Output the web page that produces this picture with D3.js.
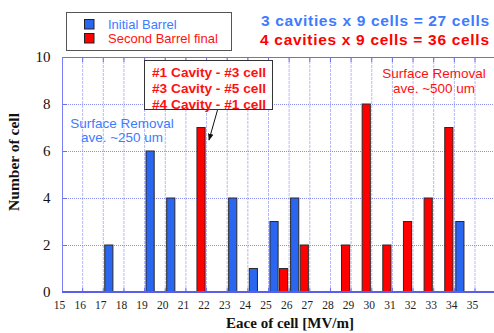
<!DOCTYPE html>
<html>
<head>
<meta charset="utf-8">
<script src="https://cdn.jsdelivr.net/npm/d3@7"></script>
<style>
  html, body { margin: 0; padding: 0; background: #fff; }
  svg { display: block; }
</style>
</head>
<body>
<svg id="chart" width="494" height="333"></svg>
<script>
// Histogram bins of accelerating field (lower edge of each 1 MV/m bin)
const bins = [15, 16, 17, 18, 19, 20, 21, 22, 23, 24, 25, 26, 27, 28, 29, 30, 31, 32, 33, 34, 35];
// Number of cells per bin
const initialBarrel = [0, 0, 2, 0, 6, 4, 0, 0, 4, 1, 3, 4, 0, 0, 0, 0, 0, 0, 0, 3, 0];
const secondBarrel  = [0, 0, 0, 0, 0, 0, 7, 0, 0, 0, 1, 2, 0, 2, 8, 2, 3, 4, 7, 0, 0];
const seriesNames = ["Initial Barrel", "Second Barrel final"];
const seriesColors = ["#2a66f0", "#ff0000"];
const xTickLabels = [15, 16, 17, 18, 19, 20, 21, 22, 23, 24, 25, 26, 27, 28, 29, 30, 31, 32, 33, 34, 35];
const yTickLabels = [0, 2, 4, 6, 8, 10];
const annotationLines = ["#1 Cavity - #3 cell", "#3 Cavity - #5 cell", "#4 Cavity - #1 cell"];

const svg = d3.select("#chart");
const plot = { left: 62, top: 57, bottom: 292, step: 20.65 };
const plotRight = plot.left + plot.step * bins.length;

const x = d3.scaleBand().domain(bins).range([plot.left, plotRight]).paddingInner(0).paddingOuter(0);
const xSub = d3.scaleBand().domain([0, 1]).range([0, x.bandwidth()]).paddingInner(0.15).paddingOuter(0.15);
const xLin = d3.scaleLinear().domain([15, 15 + bins.length]).range([plot.left, plotRight]);
const y = d3.scaleLinear().domain([0, 10]).range([plot.bottom, plot.top]);

const serif = "'Liberation Serif', 'Times New Roman', serif";
const sans = "'Liberation Sans', Arial, sans-serif";

// Vertical grid (every 1 MV/m)
svg.append("g").selectAll("line")
  .data(d3.range(16, 15 + bins.length))
  .join("line")
  .attr("x1", d => xLin(d)).attr("x2", d => xLin(d))
  .attr("y1", plot.top).attr("y2", plot.bottom)
  .attr("stroke", "#b4b8ff").attr("stroke-width", 1)
  .attr("stroke-dasharray", "3,1");

// Horizontal grid
svg.append("g").selectAll("line")
  .data([2, 4, 6, 8])
  .join("line")
  .attr("x1", plot.left).attr("x2", plotRight)
  .attr("y1", d => y(d) + 0.5).attr("y2", d => y(d) + 0.5)
  .attr("stroke", "#8a8ef0").attr("stroke-width", 1)
  .attr("stroke-dasharray", "1,1");

// Tick marks on the frame
svg.append("g").selectAll("line")
  .data(d3.range(16, 15 + bins.length))
  .join("line")
  .attr("x1", d => xLin(d)).attr("x2", d => xLin(d))
  .attr("y1", plot.top).attr("y2", plot.top + 5)
  .attr("stroke", "#6a6ef0");
svg.append("g").selectAll("line")
  .data(d3.range(16, 15 + bins.length))
  .join("line")
  .attr("x1", d => xLin(d)).attr("x2", d => xLin(d))
  .attr("y1", plot.bottom - 4).attr("y2", plot.bottom)
  .attr("stroke", "#6a6ef0");
svg.append("g").selectAll("line")
  .data([2, 4, 6, 8])
  .join("line")
  .attr("x1", plot.left).attr("x2", plot.left + 5)
  .attr("y1", d => y(d) + 0.5).attr("y2", d => y(d) + 0.5)
  .attr("stroke", "#6a6ef0");

// Frame: top and left
svg.append("line")
  .attr("x1", plot.left).attr("x2", plotRight)
  .attr("y1", plot.top + 0.5).attr("y2", plot.top + 0.5)
  .attr("stroke", "#6a6ef0").attr("stroke-width", 1);
svg.append("line")
  .attr("x1", plot.left + 0.5).attr("x2", plot.left + 0.5)
  .attr("y1", plot.top).attr("y2", plot.bottom)
  .attr("stroke", "#7a7ef6").attr("stroke-width", 1);

// Bars
const rows = bins.map((b, i) => ({ bin: b, values: [initialBarrel[i], secondBarrel[i]] }));
const groups = svg.append("g").selectAll("g")
  .data(rows)
  .join("g")
  .attr("transform", d => `translate(${x(d.bin)},0)`);
groups.selectAll("rect")
  .data(d => d.values.map((v, k) => ({ k, v })).filter(e => e.v > 0))
  .join("rect")
  .attr("x", d => xSub(d.k))
  .attr("width", xSub.bandwidth())
  .attr("y", d => y(d.v))
  .attr("height", d => y(0) - y(d.v))
  .attr("fill", d => seriesColors[d.k])
  .attr("stroke", "#2a2a2a")
  .attr("stroke-width", 1);

// Bottom axis line
svg.append("line")
  .attr("x1", plot.left).attr("x2", plotRight)
  .attr("y1", plot.bottom).attr("y2", plot.bottom)
  .attr("stroke", "#5a5ee8").attr("stroke-width", 2);

// X tick labels
svg.append("g").selectAll("text")
  .data(xTickLabels)
  .join("text")
  .attr("x", d => xLin(d) - 2.5)
  .attr("y", 308.5)
  .attr("text-anchor", "middle")
  .attr("font-family", serif)
  .attr("font-size", 11.5)
  .attr("fill", "#222")
  .text(d => d);

// Y tick labels
svg.append("g").selectAll("text")
  .data(yTickLabels)
  .join("text")
  .attr("x", 50.5)
  .attr("y", d => y(d))
  .attr("dy", "0.35em")
  .attr("text-anchor", "end")
  .attr("font-family", serif)
  .attr("font-size", 15)
  .attr("fill", "#111")
  .text(d => d);

// Axis titles
svg.append("text")
  .attr("x", 290).attr("y", 328)
  .attr("text-anchor", "middle")
  .attr("font-family", serif).attr("font-size", 15).attr("font-weight", "bold")
  .attr("fill", "#111")
  .text("Eace of cell [MV/m]");
svg.append("text")
  .attr("transform", "translate(19,162) rotate(-90)")
  .attr("text-anchor", "middle")
  .attr("font-family", serif).attr("font-size", 15.5).attr("font-weight", "bold")
  .attr("fill", "#111")
  .text("Number of cell");

// Legend
const legend = svg.append("g");
legend.append("rect")
  .attr("x", 66.5).attr("y", 12.5).attr("width", 165).attr("height", 38)
  .attr("fill", "#fff").attr("stroke", "#555").attr("stroke-width", 1);
seriesNames.forEach((name, i) => {
  legend.append("rect")
    .attr("x", 84.5).attr("y", 19.5 + i * 14).attr("width", 9.5).attr("height", 9.5)
    .attr("fill", seriesColors[i]).attr("stroke", "#222");
  legend.append("text")
    .attr("x", 108).attr("y", 24.5 + i * 14).attr("dy", "0.35em")
    .attr("font-family", sans).attr("font-size", 13)
    .attr("fill", i === 0 ? "#3d7bff" : "#ff1010")
    .text(name);
});

// Cell counts
svg.append("text")
  .attr("x", 261).attr("y", 21).attr("dy", "0.35em")
  .attr("font-family", sans).attr("font-size", 15.5).attr("font-weight", "bold")
  .attr("fill", "#3d7bff")
  .attr("textLength", 228).attr("lengthAdjust", "spacing")
  .text("3 cavities x 9 cells = 27 cells");
svg.append("text")
  .attr("x", 260).attr("y", 40).attr("dy", "0.35em")
  .attr("font-family", sans).attr("font-size", 15.5).attr("font-weight", "bold")
  .attr("fill", "#ff0000")
  .attr("textLength", 229).attr("lengthAdjust", "spacing")
  .text("4 cavities x 9 cells = 36 cells");

// Surface removal notes
const notes = [
  { lines: ["Surface Removal", "ave. ~250 um"], cx: 122, y0: 123.5, gap: 13.5, color: "#3d7bff" },
  { lines: ["Surface Removal", "ave. ~500 um"], cx: 434, y0: 73, gap: 15, color: "#ff1010" }
];
notes.forEach(n => {
  n.lines.forEach((t, i) => {
    svg.append("text")
      .attr("x", n.cx).attr("y", n.y0 + i * n.gap).attr("dy", "0.35em")
      .attr("text-anchor", "middle")
      .attr("font-family", sans).attr("font-size", 13.5)
      .attr("fill", n.color)
      .text(t);
  });
});

// Callout box with arrow to the 22 MV/m bar
svg.append("defs").append("marker")
  .attr("id", "arrowhead")
  .attr("viewBox", "0 0 10 10").attr("refX", 9).attr("refY", 5)
  .attr("markerWidth", 7).attr("markerHeight", 7)
  .attr("orient", "auto")
  .append("path").attr("d", "M0,1 L10,5 L0,9 Z").attr("fill", "#111");
svg.append("line")
  .attr("x1", 217.5).attr("y1", 110)
  .attr("x2", 209).attr("y2", 140)
  .attr("stroke", "#111").attr("stroke-width", 1)
  .attr("marker-end", "url(#arrowhead)");
svg.append("rect")
  .attr("x", 144.5).attr("y", 60.5).attr("width", 128).attr("height", 49)
  .attr("fill", "#fff").attr("stroke", "#333").attr("stroke-width", 1);
annotationLines.forEach((t, i) => {
  svg.append("text")
    .attr("x", 152).attr("y", 72 + i * 16.3).attr("dy", "0.35em")
    .attr("font-family", sans).attr("font-size", 13.5).attr("font-weight", "bold")
    .attr("fill", "#ff1010")
    .attr("textLength", 114).attr("lengthAdjust", "spacingAndGlyphs")
    .text(t);
});
</script>
</body>
</html>
